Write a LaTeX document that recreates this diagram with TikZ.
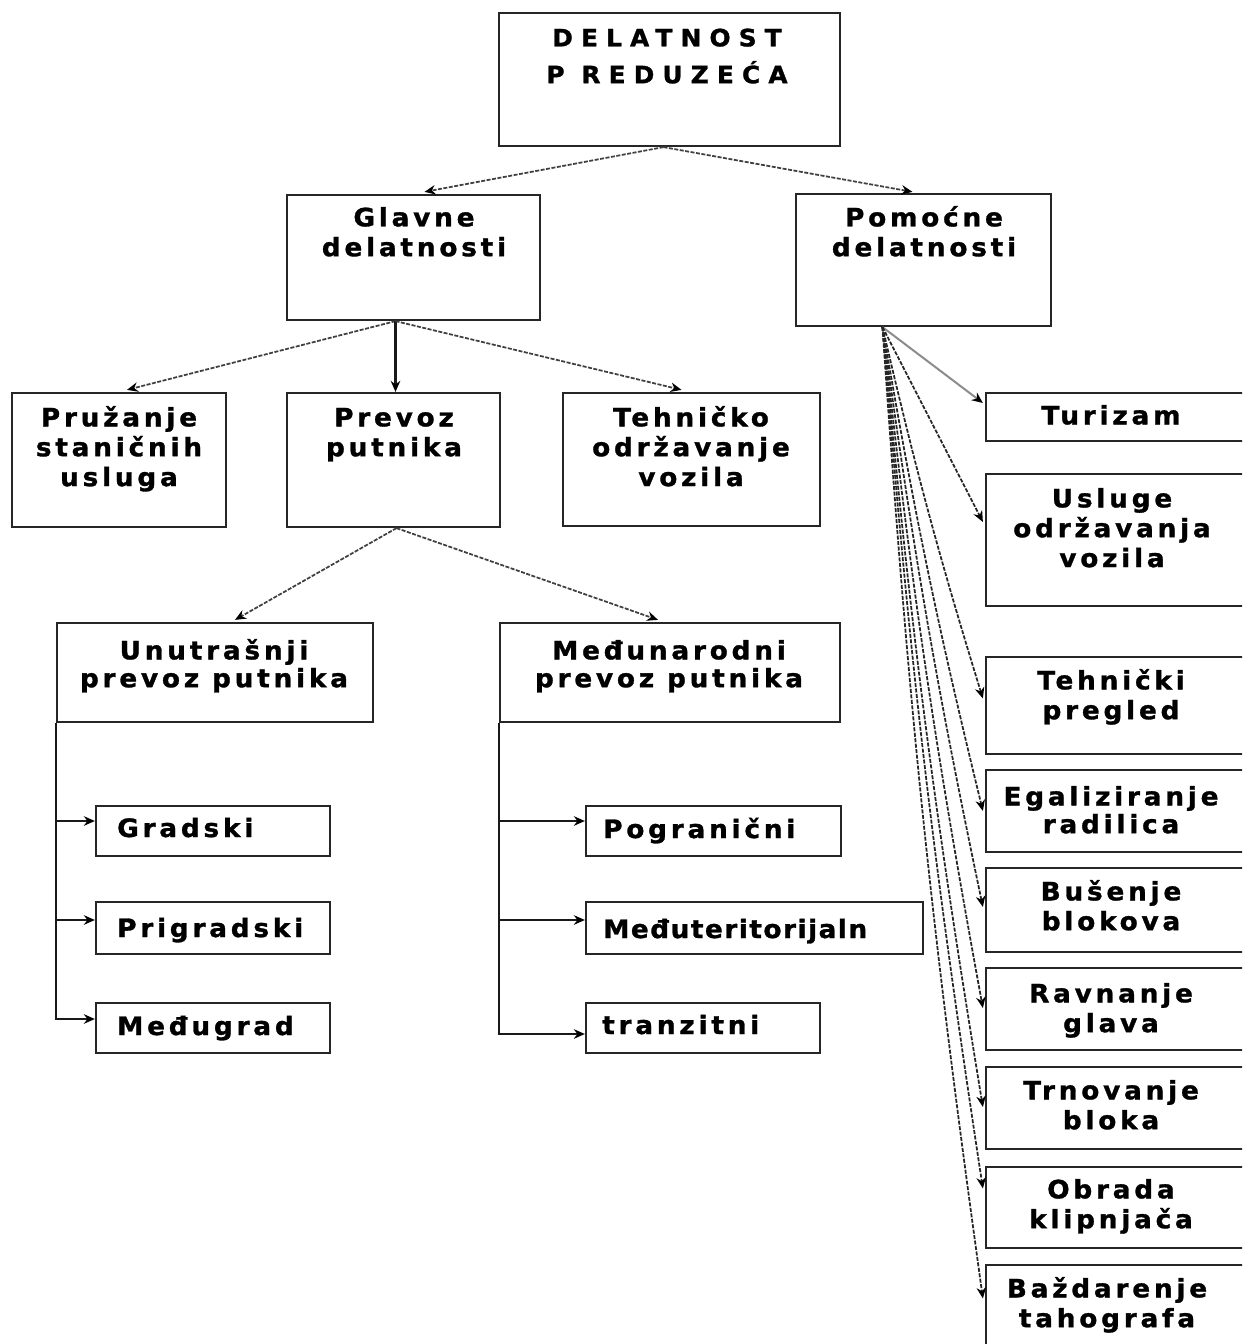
\documentclass[tikz,border=0pt]{standalone}
\usepackage{fontspec}
\newfontfamily\boxfont{DejaVu Sans}[LetterSpace=15,FakeStretch=1.04,FakeBold=1.2]
\newfontfamily\topfont{DejaVu Sans}[LetterSpace=34,FakeStretch=1.04,FakeBold=1.2]
\usetikzlibrary{calc,arrows.meta}
\newcommand\fs{\rule{0pt}{14pt}}
\newcommand\bx[5]{\node[box, minimum width={(#4-(#2))*0.02cm}, minimum height={(#5-(#3))*0.02cm}] (#1) at ({((#2)+(#4))/2},{-((#3)+(#5))/2}) {};}
\newcommand\tx[4]{\node[txt] (#1) at (#2,{-(#3)+24.6}) {\fs #4};}
\tikzset{
  tip/.style={-{Stealth[length=0.22cm,width=0.19cm,color=black]}},
  box/.style={draw=black!85, line width=0.045cm, inner sep=0pt},
  txt/.style={anchor=north, inner sep=0pt, align=center, font=\boxfont\bfseries\fontsize{14.4pt}{17pt}\selectfont},
  stxt/.style={anchor=base west, inner sep=0pt, font=\boxfont\bfseries\fontsize{14.4pt}{17pt}\selectfont},
  conn/.style={tip, draw=black!75, line width=0.035cm, dash pattern=on 0.08cm off 0.03cm},
  fan/.style={tip, draw=black!85, line width=0.035cm, dash pattern=on 0.08cm off 0.03cm},
  fanlight/.style={tip, draw=black!45, line width=0.04cm},
  solidarrow/.style={tip, draw=black!90, line width=0.045cm},
  tree/.style={tip, draw=black!90, line width=0.045cm}
}
\begin{document}
\begin{tikzpicture}[x=0.02cm,y=0.02cm]
\fill[white] (0,0) rectangle (1242,-1344);
\path[use as bounding box] (0,0) rectangle (1242,-1344);
\clip (0,0) rectangle (1242,-1344);

% boxes
\bx{top}{499}{13}{840}{146}
\bx{glavne}{287}{195}{540}{320}
\bx{pomocne}{796}{194}{1051}{326}
\bx{pruzanje}{12}{393}{226}{527}
\bx{prevoz}{287}{393}{500}{527}
\bx{tehnicko}{563}{393}{820}{526}
\bx{unutrasnji}{57}{623}{373}{722}
\bx{medjunarodni}{500}{623}{840}{722}
\bx{gradski}{96}{806}{330}{856}
\bx{prigradski}{96}{902}{330}{954}
\bx{medjugrad}{96}{1003}{330}{1053}
\bx{pogranicni}{586}{806}{841}{856}
\bx{medjuter}{586}{902}{923}{954}
\bx{tranzitni}{586}{1003}{820}{1053}
\bx{tur}{986}{393}{1250}{441}
\bx{usl}{986}{474}{1250}{606}
\bx{teh}{986}{657}{1250}{754}
\bx{ega}{986}{770}{1250}{852}
\bx{bus}{986}{868}{1250}{952}
\bx{rav}{986}{968}{1250}{1050}
\bx{trn}{986}{1067}{1250}{1149}
\bx{obr}{986}{1167}{1250}{1248}
\bx{baz}{986}{1265}{1250}{1380}

% texts
\node[txt, font=\topfont\bfseries\fontsize{13.6pt}{21pt}\selectfont] (top-t) at (667,{-46+24.6}) {\fs DELATNOST\\P REDUZEĆA};
\tx{glavne-t}{414}{226}{Glavne\\delatnosti}
\tx{pomocne-t}{924}{226}{Pomoćne\\delatnosti}
\tx{pruzanje-t}{119}{426}{Pružanje\\staničnih\\usluga}
\tx{prevoz-t}{394}{426}{Prevoz\\putnika}
\tx{tehnicko-t}{691}{426}{Tehničko\\održavanje\\vozila}
\tx{unutrasnji-t}{214}{659}{Unutrašnji\\[-0.04cm]prevoz putnika}
\tx{medjunarodni-t}{669}{659}{Međunarodni\\[-0.04cm]prevoz putnika}
\tx{tur-t}{1111}{424}{Turizam}
\tx{usl-t}{1112}{507}{Usluge\\održavanja\\vozila}
\tx{teh-t}{1111}{689}{Tehnički\\pregled}
\tx{ega-t}{1111}{805}{Egaliziranje\\[-0.04cm]radilica}
\tx{bus-t}{1111}{900}{Bušenje\\blokova}
\tx{rav-t}{1111}{1002}{Ravnanje\\glava}
\tx{trn-t}{1111}{1099}{Trnovanje\\bloka}
\tx{obr-t}{1111}{1198}{Obrada\\klipnjača}
\tx{baz-t}{1107}{1297}{Baždarenje\\tahografa}

\node[stxt] (gradski-t) at ($(gradski.west)+(22,-6)$) {Gradski};
\node[stxt] (prigradski-t) at ($(prigradski.west)+(22,-9)$) {Prigradski};
\node[stxt] (medjugrad-t) at ($(medjugrad.west)+(22,-7)$) {Međugrad};
\node[stxt] (pogranicni-t) at ($(pogranicni.west)+(18,-7)$) {Pogranični};
\node[stxt] (medjuter-t) at ($(medjuter.west)+(18,-10)$) {\addfontfeature{LetterSpace=6}Međuteritorijaln};
\node[stxt] (tranzitni-t) at ($(tranzitni.west)+(17,-6)$) {tranzitni};

% connectors
\coordinate (ts) at ($(top.south)+(-6,0)$);
\draw[conn] (ts) -- ($(glavne.north)+(11,2)$);
\draw[conn] (ts) -- ($(pomocne.north)+(-11,1)$);

\coordinate (gs) at ($(glavne.south)+(-18,0)$);
\draw[conn] (gs) -- ($(pruzanje.north)+(8,2)$);
\draw[solidarrow] (gs) -- (gs |- prevoz.north);
\draw[conn] (gs) -- ($(tehnicko.north)+(-10,2)$);

\coordinate (vs) at ($(prevoz.south)+(3,0)$);
\draw[conn] (vs) -- ($(unutrasnji.north)+(20,2)$);
\draw[conn] (vs) -- ($(medjunarodni.north)+(-12,2)$);

\draw[tree] (unutrasnji.south west) |- ($(gradski.west)+(0,10)$);
\draw[tree] (unutrasnji.south west) |- ($(prigradski.west)+(0,8)$);
\draw[tree] (unutrasnji.south west) |- ($(medjugrad.west)+(0,9)$);
\draw[tree] (medjunarodni.south west) |- ($(pogranicni.west)+(0,10)$);
\draw[tree] (medjunarodni.south west) |- ($(medjuter.west)+(0,8)$);
\draw[tree] (medjunarodni.south west) |- ($(tranzitni.west)+(0,-6)$);

\coordinate (ps) at ($(pomocne.south)+(-41,0)$);
\draw[fanlight] (ps) -- ($(tur.west)+(-2,14)$);
\draw[fan] (ps) -- ($(usl.west)+(-2,18)$);
\draw[fan] (ps) to[bend right=2] ($(teh.west)+(-2,7)$);
\draw[fan] (ps) to[bend right=2] ($(ega.west)+(-2,0)$);
\draw[fan] (ps) to[bend right=2] ($(bus.west)+(-2,3)$);
\draw[fan] (ps) to[bend right=2] ($(rav.west)+(-2,1)$);
\draw[fan] (ps) to[bend right=2] ($(trn.west)+(-2,1)$);
\draw[fan] (ps) to[bend right=2] ($(obr.west)+(-2,19)$);
\draw[fan] (ps) to[bend right=2] ($(baz.west)+(-2,24)$);
\end{tikzpicture}
\end{document}
